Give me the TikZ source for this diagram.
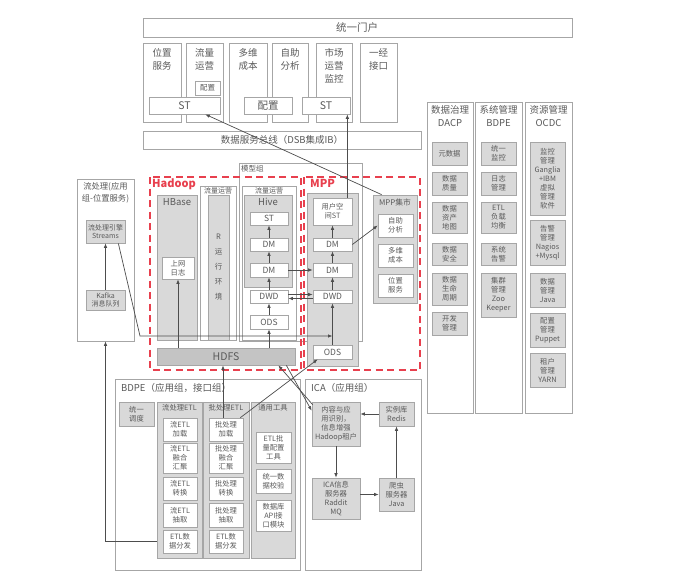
\documentclass[tikz,border=0pt]{standalone}
\usepackage{fontspec}
\setmainfont{Noto Sans CJK SC}
\usetikzlibrary{arrows.meta}
\definecolor{txt}{HTML}{5A5A5A}
\definecolor{bd}{HTML}{A6A6A6}
\definecolor{gf}{HTML}{D9D9D9}
\definecolor{hf}{HTML}{C4C4C4}
\definecolor{ln}{HTML}{4D4D4D}
\definecolor{rd}{HTML}{E8404E}
\newcommand\fntS{\fontsize{7}{8.5}\selectfont}
\newcommand\fntT{\fontsize{7.3}{9}\selectfont}
\newcommand\fntD{\fontsize{8.5}{10}\selectfont}
\newcommand\fntM{\fontsize{9.5}{13}\selectfont}
\newcommand\fntL{\fontsize{10.5}{12}\selectfont}
\newcommand\bx[7]{\node[#6,minimum width={((#4)-(#2))*1pt},minimum height={((#5)-(#3))*1pt}] (#1) at ({((#2)+(#4))/2},{((#3)+(#5))/2}) {#7};}
\begin{document}
\begin{tikzpicture}[x=1pt,y=-1pt,
  wb/.style={draw=bd,fill=white,line width=0.7pt,inner sep=0pt,align=center,text=txt,font=\fntT},
  gb/.style={wb,fill=gf},
  hb/.style={wb,fill=hf},
  tx/.style={inner sep=0pt,align=center,text=txt},
  arr/.style={-{Latex[length=4.5pt,width=3.5pt]},draw=ln,line width=0.7pt},
  red/.style={draw=rd,line width=1.3pt,dash pattern=on 7pt off 4.5pt},
  rlab/.style={inner sep=0pt,anchor=north west,text=rd,font=\bfseries\fontsize{11}{12}\selectfont}]
\useasboundingbox[fill=white] (0,0) rectangle (687,586);

% ---------- top ----------
\bx{portal}{143}{18}{572}{37}{wb}{}
\node[tx,font=\fntL] (tportal) at (357,27.5) {统一门户};
\bx{p1}{143}{43}{181}{122}{wb}{}
\bx{p2}{186}{43}{223}{122}{wb}{}
\bx{p3}{229}{43}{267}{122}{wb}{}
\bx{p4}{272}{43}{308}{122}{wb}{}
\bx{p5}{316}{43}{352}{122}{wb}{}
\bx{p6}{360}{43}{397}{122}{wb}{}
\node[tx,font=\fntM,anchor=north] (tp1) at (162,48) {位置\\服务};
\node[tx,font=\fntM,anchor=north] (tp2) at (204.5,48) {流量\\运营};
\node[tx,font=\fntM,anchor=north] (tp3) at (248,48) {多维\\成本};
\node[tx,font=\fntM,anchor=north] (tp4) at (290,48) {自助\\分析};
\node[tx,font=\fntM,anchor=north] (tp5) at (334,48) {市场\\运营\\监控};
\node[tx,font=\fntM,anchor=north] (tp6) at (378.5,48) {一经\\接口};
\bx{cfg1}{195}{81}{220}{95}{wb,font=\fontsize{7.5}{8}\selectfont}{配置}
\bx{st1}{149}{97}{220}{114}{wb,font=\fntL}{ST}
\bx{cfg2}{244}{97}{292}{114}{wb,font=\fntL}{配置}
\bx{st2}{302}{97}{350}{114}{wb,font=\fntL}{ST}
\bx{bus}{143}{131}{421}{149}{wb,font=\fntM}{数据服务总线（DSB集成IB）}

% ---------- right columns ----------
\bx{dacp}{427}{102}{473}{413}{wb}{}
\bx{bdpe}{475}{102}{522}{413}{wb}{}
\bx{ocdc}{525}{102}{572}{413}{wb}{}
\node[tx,font=\fntM,anchor=north] (tdacp) at (450,105) {数据治理\\DACP};
\node[tx,font=\fntM,anchor=north] (tbdpe) at (498.5,105) {系统管理\\BDPE};
\node[tx,font=\fntM,anchor=north] (tocdc) at (548.5,105) {资源管理\\OCDC};
\bx{d1}{432}{142}{467}{165}{gb}{元数据}
\bx{d2}{432}{172}{467}{195}{gb}{数据\\质量}
\bx{d3}{432}{202}{467}{233}{gb}{数据\\资产\\地图}
\bx{d4}{432}{243}{467}{265}{gb}{数据\\安全}
\bx{d5}{432}{273}{467}{305}{gb}{数据\\生命\\周期}
\bx{d6}{432}{312}{467}{335}{gb}{开发\\管理}
\bx{e1}{481}{142}{516}{165}{gb}{统一\\监控}
\bx{e2}{481}{172}{516}{195}{gb}{日志\\管理}
\bx{e3}{481}{202}{516}{233}{gb}{ETL\\负载\\均衡}
\bx{e4}{481}{243}{516}{265}{gb}{系统\\告警}
\bx{e5}{481}{273}{516}{317}{gb}{集群\\管理\\Zoo\\Keeper}
\bx{o1}{530}{142}{565}{215}{gb}{监控\\管理\\Ganglia\\+IBM\\虚拟\\管理\\软件}
\bx{o2}{530}{220}{565}{265}{gb}{告警\\管理\\Nagios\\+Mysql}
\bx{o3}{530}{273}{565}{307}{gb}{数据\\管理\\Java}
\bx{o4}{530}{313}{565}{347}{gb}{配置\\管理\\Puppet}
\bx{o5}{530}{353}{565}{387}{gb}{租户\\管理\\YARN}

% ---------- left stream box ----------
\bx{stream}{77}{179}{134}{341}{wb}{}
\node[tx,font=\fontsize{8.3}{12}\selectfont,anchor=north] (tstream) at (105.5,182) {流处理(应用\\组-位置服务)};
\bx{streams}{86}{220}{125}{243}{gb,font=\fntS}{流处理引擎\\Streams}
\bx{kafka}{86}{290}{125}{310}{gb,font=\fntS}{Kafka\\消息队列}

% ---------- model group / hadoop / mpp ----------
\bx{model}{239}{163}{362}{341}{wb}{}
\node[tx,font=\fontsize{7.5}{8}\selectfont,anchor=north west] (tmodel) at (241,164.5) {模型组};
\draw[red] (150,177) rectangle (301,370);
\draw[red] (304,177) rectangle (420,370);
\node[rlab] (thadoop) at (152,179) {Hadoop};
\node[rlab] (tmpp) at (310,179) {MPP};

\bx{hbase}{157}{195}{197}{340}{gb}{}
\node[tx,font=\fntM,anchor=north] (thbase) at (177,198) {HBase};
\bx{logbox}{162}{257}{194}{279}{wb}{上网\\日志}
\bx{rout}{200}{186}{236}{340}{wb}{}
\node[tx,font=\fontsize{7}{8}\selectfont,anchor=north] (trout) at (218,187) {流量运营};
\bx{rcol}{208}{195}{229}{340}{gb,font=\fontsize{7.5}{15}\selectfont}{R\\运\\行\\环\\境}
\bx{hout}{242}{186}{296}{340}{wb}{}
\node[tx,font=\fontsize{7}{8}\selectfont,anchor=north] (thout) at (269,187) {流量运营};
\bx{hive}{244}{195}{292}{287}{gb}{}
\node[tx,font=\fntM,anchor=north] (thive) at (268,198) {Hive};
\bx{hst}{250}{212}{288}{225}{wb,font=\fntD}{ST}
\bx{hdm1}{250}{238}{288}{251}{wb,font=\fntD}{DM}
\bx{hdm2}{250}{263}{288}{277}{wb,font=\fntD}{DM}
\bx{hdwd}{250}{290}{288}{303}{wb,font=\fntD}{DWD}
\bx{hods}{250}{315}{288}{329}{wb,font=\fntD}{ODS}
\bx{hdfs}{157}{348}{295}{365}{hb,font=\fontsize{10.5}{12}\selectfont}{HDFS}

\bx{mcol}{307}{193}{358}{366}{gb}{}
\bx{ust}{313}{198}{352}{225}{wb}{用户空\\间ST}
\bx{mdm1}{313}{238}{352}{251}{wb,font=\fntD}{DM}
\bx{mdm2}{313}{263}{352}{277}{wb,font=\fntD}{DM}
\bx{mdwd}{313}{290}{352}{303}{wb,font=\fntD}{DWD}
\bx{mods}{313}{345}{352}{359}{wb,font=\fntD}{ODS}
\bx{mart}{373}{195}{417}{303}{gb}{}
\node[tx,font=\fontsize{7.8}{9}\selectfont,anchor=north] (tmart) at (395,199) {MPP集市};
\bx{mself}{378}{214}{413}{237}{wb}{自助\\分析}
\bx{mcost}{378}{244}{413}{267}{wb}{多维\\成本}
\bx{mloc}{378}{274}{413}{297}{wb}{位置\\服务}

% ---------- BDPE ----------
\bx{bdpebox}{115}{379}{300}{570}{wb}{}
\node[tx,font=\fntM,anchor=north west] (tbdpebox) at (121,383) {BDPE（应用组，接口组）};
\bx{sched}{119}{402}{154}{426}{gb}{统一\\调度}
\bx{scol}{157}{402}{202}{558}{gb}{}
\bx{bcol}{203}{402}{249}{558}{gb}{}
\bx{tcol}{251}{402}{295}{558}{gb}{}
\node[tx,font=\fntT,anchor=north] (tscol) at (179.5,404) {流处理ETL};
\node[tx,font=\fntT,anchor=north] (tbcol) at (226,404) {批处理ETL};
\node[tx,font=\fntT,anchor=north] (ttcol) at (273,404) {通用工具};
\bx{sload}{163}{418}{197}{441}{wb}{流ETL\\加载}
\bx{sfuse}{163}{443}{197}{473}{wb}{流ETL\\融合\\汇聚}
\bx{strans}{163}{477}{197}{500}{wb}{流ETL\\转换}
\bx{sext}{163}{503}{197}{527}{wb}{流ETL\\抽取}
\bx{sdist}{163}{530}{197}{553}{wb}{ETL数\\据分发}
\bx{bload}{209}{418}{243}{441}{wb}{批处理\\加载}
\bx{bfuse}{209}{443}{243}{473}{wb}{批处理\\融合\\汇聚}
\bx{btrans}{209}{477}{243}{500}{wb}{批处理\\转换}
\bx{bext}{209}{503}{243}{527}{wb}{批处理\\抽取}
\bx{bdist}{209}{530}{243}{553}{wb}{ETL数\\据分发}
\bx{tool1}{256}{432}{291}{463}{wb}{ETL批\\量配置\\工具}
\bx{tool2}{256}{469}{291}{493}{wb}{统一数\\据校验}
\bx{tool3}{256}{500}{291}{531}{wb}{数据库\\API接\\口模块}

% ---------- ICA ----------
\bx{icabox}{305}{379}{421}{570}{wb}{}
\node[tx,font=\fntM,anchor=north west] (ticabox) at (311,383) {ICA（应用组）};
\bx{content}{312}{402}{360}{446}{gb}{内容与应\\用识别，\\信息增强\\Hadoop租户}
\bx{redis}{379}{402}{414}{426}{gb}{实例库\\Redis}
\bx{icasrv}{312}{478}{360}{519}{gb}{ICA信息\\服务器\\Raddit\\MQ}
\bx{crawler}{379}{478}{414}{511}{gb}{爬虫\\服务器\\Java}

% ---------- connectors ----------
\draw[arr] (kafka) -- (streams);
\draw[arr] (scol.west |- sdist.west) -| (stream.south);
\coordinate (c1) at (140,336);
\coordinate (c2) at (332.5,336);
\draw[arr] ([xshift=-7pt]streams.south east) -- (c1) -- (c2);
\draw[arr] (mods) -- (mdwd);
\draw[arr] (hdfs.north -| logbox) -- (logbox);
\draw[arr] (hdfs.north -| hods) -- (hods);
\draw[arr] (hods) -- (hdwd);
\draw[arr] (hdwd) -- (hdm2);
\draw[arr] (hdm2) -- (hdm1);
\draw[arr] (hdm1) -- (hst);
\draw[arr] (hdm2) -- (mdm2);
\draw[arr] ([yshift=2pt]hdwd.east) -- ([yshift=2pt]mdwd.west);
\draw[arr] ([yshift=-2pt]mdwd.west) -- ([yshift=-2pt]hdwd.east);
\draw[arr] (mdwd) -- (mdm2);
\draw[arr] (mdm2) -- (mdm1);
\draw[arr] (mdm1) -- (ust);
\draw[arr] (mdm1.east) -- (mself.west);
\draw[arr] ([xshift=-5pt]ust.north east) -- ([xshift=-5pt]ust.north east |- st2.south);
\draw[arr] ([xshift=9pt]mart.north west) -- ([xshift=-15pt]st1.south east);
\draw[arr] ([xshift=-3pt]bload.north) -- ([xshift=-3pt]bload.north |- hdfs.south);
\draw[arr] ([xshift=-3pt]bload.north east) -- ([xshift=5pt]mods.south west);
\draw[arr] ([xshift=1pt,yshift=-3pt]content.north west) -- ([xshift=-17pt]hdfs.south east);
\draw[arr] ([xshift=-9pt]hdfs.south east) -- ([yshift=-9pt]content.north west);
\draw[arr] (redis.west) -- (redis.west -| content.east);
\draw[arr] (content) -- (icasrv);
\draw[arr] (icasrv.east |- crawler.west) -- (crawler.west);
\draw[arr] (crawler) -- (redis);
\end{tikzpicture}
\end{document}
